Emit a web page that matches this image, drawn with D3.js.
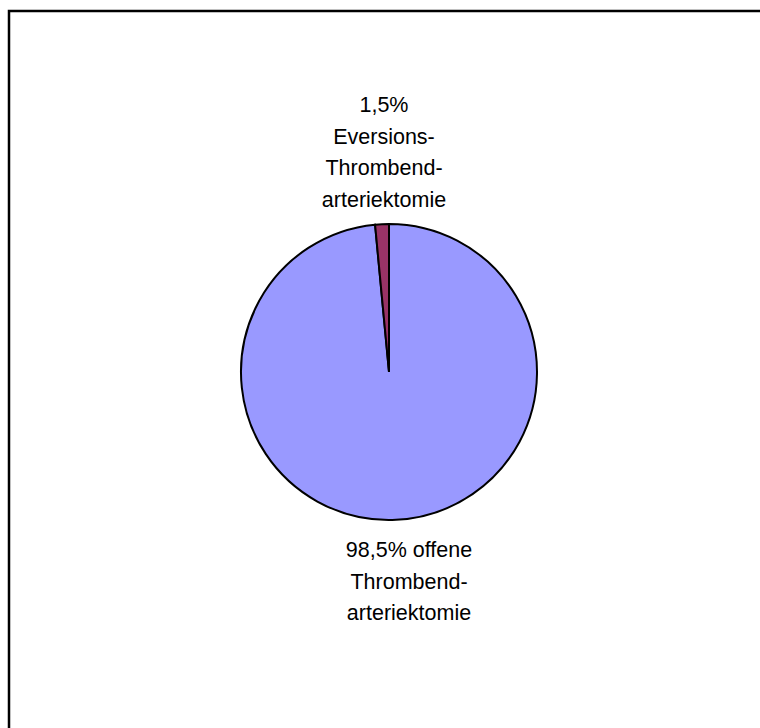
<!DOCTYPE html>
<html><head><meta charset="utf-8">
<script src="https://cdn.jsdelivr.net/npm/d3@7"></script>
<style>body{margin:0;background:#fff}svg{display:block}</style>
</head><body>
<svg id="c" width="760" height="728"></svg>
<script>
const categories = ["offene Thrombendarteriektomie", "Eversions-Thrombendarteriektomie"];
const values = [98.5, 1.5];
const colors = ["#9999FF", "#993366"];
const labelLines = [
  ["98,5% offene", "Thrombend-", "arteriektomie"],
  ["1,5%", "Eversions-", "Thrombend-", "arteriektomie"]
];

const svg = d3.select("#c");
svg.append("rect").attr("x", 9).attr("y", 11).attr("width", 800).attr("height", 800)
  .attr("fill", "#fff").attr("stroke", "#000").attr("stroke-width", 2.5);

const cx = 389, cy = 372, r = 148;
const pie = d3.pie().sort(null).value(d => d).startAngle(0).endAngle(2 * Math.PI);
const arcs = pie(values);
const arc = d3.arc().innerRadius(0).outerRadius(r);
const g = svg.append("g").attr("transform", `translate(${cx},${cy})`);
g.selectAll("path").data(arcs).join("path")
  .attr("d", arc).attr("fill", (d, i) => colors[i])
  .attr("stroke", "#000").attr("stroke-width", 2).attr("stroke-linejoin", "miter");

const fs = 21.5, lh = 31.5;
const labelPos = [{x: 409, y: 557}, {x: 384, y: 112}];
labelLines.forEach((lines, i) => {
  const t = svg.append("text").attr("text-anchor", "middle")
    .attr("font-family", "Liberation Sans, Arial, sans-serif").attr("font-size", fs)
    .attr("fill", "#000");
  lines.forEach((s, k) => {
    t.append("tspan").attr("x", labelPos[i].x).attr("y", labelPos[i].y + k * lh).text(s);
  });
});
</script>
</body></html>
